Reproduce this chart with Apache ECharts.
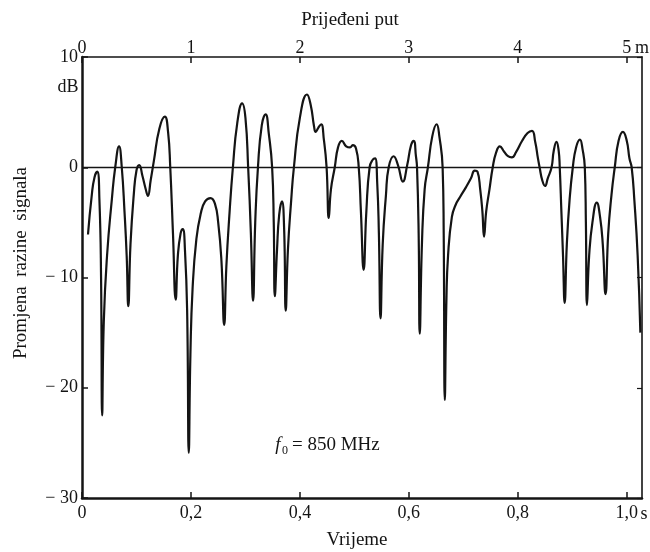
<!DOCTYPE html>
<html>
<head>
<meta charset="utf-8">
<script src="https://cdn.jsdelivr.net/npm/echarts@6/dist/echarts.min.js"></script>
<style>
  html, body { margin: 0; padding: 0; background: #fff; }
  #chart { width: 650px; height: 552px; }
</style>
</head>
<body>
<div id="chart"></div>
<script>
// vrijeme (s) i promjena razine signala (dB), očitano sa slike
const timeS = [
  0.011, 0.018, 0.023, 0.028, 0.032, 0.035, 0.037, 0.040, 0.046, 0.055,
  0.061, 0.068, 0.073, 0.078, 0.082, 0.085, 0.089, 0.095, 0.100, 0.105,
  0.111, 0.117, 0.121, 0.126, 0.132, 0.142, 0.152, 0.158, 0.162, 0.167,
  0.172, 0.176, 0.181, 0.185, 0.189, 0.193, 0.196, 0.199, 0.203, 0.210,
  0.218, 0.226, 0.236, 0.244, 0.250, 0.256, 0.261, 0.265, 0.271, 0.277,
  0.285, 0.294, 0.300, 0.305, 0.310, 0.314, 0.318, 0.323, 0.330, 0.337,
  0.343, 0.349, 0.352, 0.354, 0.358, 0.362, 0.367, 0.371, 0.374, 0.378,
  0.384, 0.389, 0.400, 0.413, 0.420, 0.426, 0.429, 0.434, 0.439, 0.444,
  0.449, 0.453, 0.457, 0.464, 0.470, 0.477, 0.485, 0.492, 0.497, 0.503,
  0.508, 0.512, 0.517, 0.522, 0.528, 0.534, 0.538, 0.542, 0.545, 0.548,
  0.552, 0.558, 0.563, 0.572, 0.580, 0.589, 0.597, 0.604, 0.609, 0.613,
  0.615, 0.618, 0.620, 0.624, 0.629, 0.635, 0.643, 0.651, 0.656, 0.662,
  0.664, 0.666, 0.669, 0.672, 0.679, 0.686, 0.694, 0.705, 0.714, 0.721,
  0.726, 0.731, 0.735, 0.738, 0.742, 0.748, 0.754, 0.760, 0.767, 0.775,
  0.782, 0.789, 0.797, 0.808, 0.818, 0.826, 0.832, 0.837, 0.840, 0.845,
  0.850, 0.855, 0.862, 0.866, 0.871, 0.875, 0.877, 0.880, 0.883, 0.886,
  0.890, 0.895, 0.901, 0.907, 0.914, 0.919, 0.923, 0.925, 0.927, 0.931,
  0.937, 0.945, 0.951, 0.956, 0.961, 0.966, 0.972, 0.978, 0.985, 0.993,
  1.000, 1.005, 1.009, 1.014, 1.020, 1.025
];
const levelDb = [
  -6.1, -2.5, -0.9, -0.4, -3, -10, -22.5, -14, -8, -2.8,
  0, 1.9, 0, -4, -8, -12.6, -7, -2.5, -0.3, 0.2,
  -0.8, -2.0, -2.6, -1.2, 0.6, 3.5, 4.6, 3.2, 0, -6,
  -12, -8, -6.0, -5.6, -7.5, -13, -25.9, -17, -11, -6.5,
  -4.2, -3.1, -2.8, -3.3, -5, -8.5, -14.3, -9, -4, 0,
  4, 5.8, 4.5, 0, -6, -12.1, -5, 0, 3.8, 4.8,
  3, 0, -5, -11.7, -7.5, -4.3, -3.1, -5.5, -13, -7.5,
  -3, 0, 4.5, 6.6, 5.6, 3.7, 3.2, 3.6, 3.9, 2.5,
  0, -4.6, -2, 0, 1.8, 2.4, 1.9, 1.8, 2.0, 1.7,
  0, -4, -9.3, -4, 0, 0.7, 0.8, -1.5, -6, -13.7,
  -7, -2.5, 0, 1.0, 0.2, -1.3, 0.2, 2, 2.4, 1,
  0, -6, -15.1, -7, -2, 0, 2.8, 3.9, 2.8, 0,
  -6, -21.1, -12, -8, -4.5, -3.4, -2.7, -1.8, -1, -0.3,
  -0.4, -2, -4, -6.3, -4, -2, 0, 1.3, 1.9, 1.4,
  1.0, 0.9, 1.4, 2.4, 3.1, 3.3, 2.3, 0.8, 0, -1.2,
  -1.7, -1, 0, 1.5, 2.3, 1.5, 0, -4, -8, -12.3,
  -7, -3, 0, 1.8, 2.5, 1.6, 0, -5, -12.5, -8,
  -5, -3.2, -4.5, -7, -11.5, -6, -2.5, 0, 2.4, 3.2,
  2.4, 0.8, 0, -3, -8, -15
];
const timeTicks = [0, 0.2, 0.4, 0.6, 0.8, 1.0];
const timeTickLabels = ['0', '0,2', '0,4', '0,6', '0,8', '1,0'];
const distTicks = [0, 1, 2, 3, 4, 5];
const distTickLabels = ['0', '1', '2', '3', '4', '5'];

const serif = '"Liberation Serif", "DejaVu Serif", serif';
const ink = '#141414';
const tMax = 1.028;

const chart = echarts.init(document.getElementById('chart'), null, { renderer: 'canvas' });

const labelFont = { color: ink, fontFamily: serif, fontSize: 18 };

const option = {
  backgroundColor: '#fff',
  animation: false,
  grid: { left: 82, right: 8, top: 57, bottom: 54 },
  xAxis: [
    {
      type: 'value', position: 'bottom', min: 0, max: tMax,
      axisLine: { onZero: false, lineStyle: { color: ink, width: 2.5 } },
      axisTick: { inside: true, length: 6, customValues: timeTicks, lineStyle: { color: ink, width: 1.5 } },
      axisLabel: Object.assign({
        customValues: timeTicks, margin: 6,
        formatter: v => timeTickLabels[timeTicks.findIndex(x => Math.abs(x - v) < 1e-6)] || ''
      }, labelFont),
      splitLine: { show: false }
    },
    {
      type: 'value', position: 'top', min: 0, max: tMax * 5,
      axisLine: { onZero: false, lineStyle: { color: ink, width: 1.6 } },
      axisTick: { inside: true, length: 6, customValues: distTicks, lineStyle: { color: ink, width: 1.5 } },
      axisLabel: Object.assign({
        customValues: distTicks, margin: 0,
        formatter: v => distTickLabels[distTicks.indexOf(Math.round(v))] || ''
      }, labelFont),
      splitLine: { show: false }
    }
  ],
  yAxis: [
    {
      type: 'value', position: 'left', min: -30, max: 10, interval: 10,
      axisLine: { onZero: false, lineStyle: { color: ink, width: 2.5 } },
      axisTick: { inside: true, length: 6, lineStyle: { color: ink, width: 1.5 } },
      axisLabel: Object.assign({
        margin: 4,
        formatter: v => v < 0 ? '\u2212 ' + Math.abs(v) : String(v)
      }, labelFont),
      splitLine: { show: false }
    },
    {
      type: 'value', position: 'right', min: -30, max: 10, interval: 10,
      axisLine: { show: true, onZero: false, lineStyle: { color: ink, width: 1.6 } },
      axisTick: { inside: true, length: 5, lineStyle: { color: ink, width: 1.2 } },
      axisLabel: { show: false },
      splitLine: { show: false }
    }
  ],
  series: [
    {
      type: 'line',
      xAxisIndex: 0, yAxisIndex: 0,
      data: timeS.map((t, i) => [t, levelDb[i]]),
      showSymbol: false,
      smooth: 0.5,
      lineStyle: { color: ink, width: 2.2, join: 'round' },
      markLine: {
        silent: true, symbol: 'none', label: { show: false },
        lineStyle: { color: ink, width: 1.3, type: 'solid' },
        data: [{ yAxis: 0 }]
      }
    }
  ],
  graphic: [
    { type: 'text', style: { text: 'Prijeđeni put', font: '19px ' + serif, fill: ink, x: 350, y: 20, align: 'center', verticalAlign: 'middle' } },
    { type: 'text', style: { text: 'm', font: '18px ' + serif, fill: ink, x: 642, y: 48, align: 'center', verticalAlign: 'middle' } },
    { type: 'text', style: { text: 'dB', font: '18px ' + serif, fill: ink, x: 68, y: 87, align: 'center', verticalAlign: 'middle' } },
    { type: 'text', style: { text: 's', font: '18px ' + serif, fill: ink, x: 644, y: 514, align: 'center', verticalAlign: 'middle' } },
    { type: 'text', style: { text: 'Vrijeme', font: '19px ' + serif, fill: ink, x: 357, y: 540, align: 'center', verticalAlign: 'middle' } },
    { type: 'text', x: 21, y: 263, rotation: Math.PI / 2, style: { text: 'Promjena  razine  signala', font: '19px ' + serif, fill: ink, x: 0, y: 0, align: 'center', verticalAlign: 'middle' } },
    { type: 'text', style: { text: 'f', font: 'italic 19px ' + serif, fill: ink, x: 278, y: 445, align: 'center', verticalAlign: 'middle' } },
    { type: 'text', style: { text: '0', font: '12px ' + serif, fill: ink, x: 285, y: 451, align: 'center', verticalAlign: 'middle' } },
    { type: 'text', style: { text: '= 850 MHz', font: '19px ' + serif, fill: ink, x: 292, y: 445, align: 'left', verticalAlign: 'middle' } }
  ]
};

chart.setOption(option);
</script>
</body>
</html>
